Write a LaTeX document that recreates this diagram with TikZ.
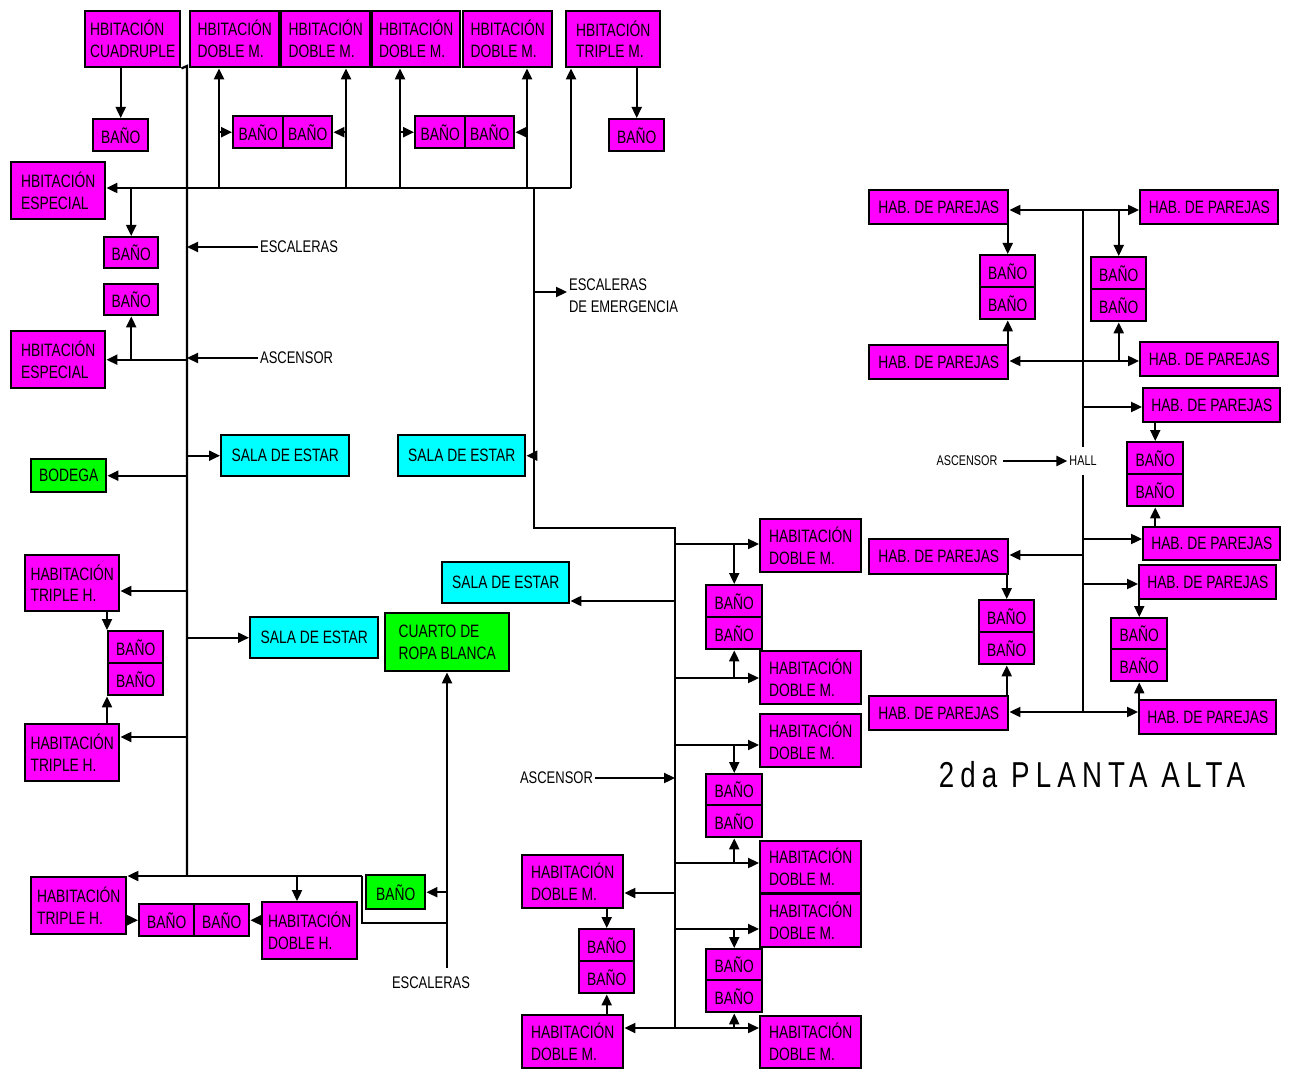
\documentclass[tikz,border=0pt]{standalone}
\usepackage{fontspec}
\setmainfont{Liberation Sans}[FakeStretch=0.77]
\usetikzlibrary{arrows.meta}
\definecolor{rosa}{RGB}{255,0,255}
\definecolor{celeste}{RGB}{0,255,255}
\definecolor{verde}{RGB}{0,255,0}
\newcommand\roomfont{\fontsize{10.2pt}{12.5pt}\selectfont}
\newcommand\tagfont{\fontsize{9.6pt}{12.5pt}\selectfont}
\newcommand\hallfont{\fontsize{8pt}{9pt}\selectfont}

\begin{document}
\begin{tikzpicture}[
        x=0.02cm, y=-0.02cm,
        every node/.style={font=\roomfont},
        box/.style={rectangle, draw, line width=1.4pt, anchor=north west, inner sep=2pt, align=left, fill=#1},
        sz/.style 2 args={minimum width=#1*0.02cm, minimum height=#2*0.02cm},
        arrow/.style={-{Triangle[length=0.22cm, width=0.2cm]}, line width=1.3pt},
        dblarrow/.style={{Triangle[length=0.22cm, width=0.2cm]}-{Triangle[length=0.22cm, width=0.2cm]}, line width=1.3pt},
        wire/.style={line width=1.3pt},
        tag/.style={font=\tagfont, inner sep=1pt}
    ]
    \useasboundingbox (0,0) rectangle (1300,1070);
%
    % top row
    \node[box=rosa, sz={95}{56}] (cuad) at (84,10) {HBITACIÓN\\CUADRUPLE};
    \node[box=rosa, sz={89}{56}] (dm1) at (189,10) {HBITACIÓN\\DOBLE M.};
    \node[box=rosa, sz={89}{56}] (dm2) at (280,10) {HBITACIÓN\\DOBLE M.};
    \node[box=rosa, sz={88}{56}] (dm3) at (371,10) {HBITACIÓN\\DOBLE M.};
    \node[box=rosa, sz={89}{56}] (dm4) at (462,10) {HBITACIÓN\\DOBLE M.};
    \node[box=rosa, sz={94}{56}] (tm) at (565,10) {HBITACIÓN\\TRIPLE M.};
    \node[box=rosa, sz={55}{32}, align=center] (b1) at (92,118) {BAÑO};
    \node[box=rosa, sz={50}{32}, align=center] (bp1a) at (232,115) {BAÑO};
    \node[box=rosa, sz={49}{32}, align=center] (bp1b) at (282,115) {BAÑO};
    \node[box=rosa, sz={50}{32}, align=center] (bp2a) at (414,115) {BAÑO};
    \node[box=rosa, sz={49}{32}, align=center] (bp2b) at (464,115) {BAÑO};
    \node[box=rosa, sz={55}{32}, align=center] (b2) at (608,118) {BAÑO};
%
    % left wing
    \node[box=rosa, sz={94}{57}] (esp1) at (10,161) {HBITACIÓN\\ESPECIAL};
    \node[box=rosa, sz={54}{31}, align=center] (b3) at (103,236) {BAÑO};
    \node[box=rosa, sz={54}{31}, align=center] (b4) at (103,283) {BAÑO};
    \node[box=rosa, sz={94}{57}] (esp2) at (10,330) {HBITACIÓN\\ESPECIAL};
    \node[box=celeste, sz={128}{41}, align=center] (sala1) at (220,434) {SALA DE ESTAR};
    \node[box=celeste, sz={127}{41}, align=center] (sala2) at (397,434) {SALA DE ESTAR};
    \node[box=verde, sz={75}{33}, align=center] (bod) at (30,458) {BODEGA};
    \node[box=celeste, sz={127}{41}, align=center] (sala3) at (441,561) {SALA DE ESTAR};
    \node[box=rosa, sz={94}{56}] (th1) at (24,554) {HABITACIÓN\\TRIPLE H.};
    \node[box=rosa, sz={55}{32}, align=center] (b5) at (107,630) {BAÑO};
    \node[box=rosa, sz={55}{32}, align=center] (b6) at (107,662) {BAÑO};
    \node[box=rosa, sz={94}{57}] (th2) at (24,723) {HABITACIÓN\\TRIPLE H.};
    \node[box=celeste, sz={128}{41}, align=center] (sala4) at (249,616) {SALA DE ESTAR};
    \node[box=verde, sz={124}{58}] (ropa) at (384,612) {CUARTO DE\\ROPA BLANCA};
%
    % bottom left
    \node[box=rosa, sz={95}{57}] (th3) at (30,876) {HABITACIÓN\\TRIPLE H.};
    \node[box=rosa, sz={55}{32}, align=center] (bp3a) at (138,903) {BAÑO};
    \node[box=rosa, sz={55}{32}, align=center] (bp3b) at (193,903) {BAÑO};
    \node[box=rosa, sz={95}{57}] (dh) at (261,901) {HABITACIÓN\\DOBLE H.};
    \node[box=verde, sz={59}{34}, align=center] (bv) at (365,874) {BAÑO};
%
    % middle column
    \node[box=rosa, sz={101}{53}] (hd1) at (759,518) {HABITACIÓN\\DOBLE M.};
    \node[box=rosa, sz={56}{32}, align=center] (ba1) at (705,584) {BAÑO};
    \node[box=rosa, sz={56}{32}, align=center] (ba2) at (705,616) {BAÑO};
    \node[box=rosa, sz={101}{53}] (hd2) at (759,650) {HABITACIÓN\\DOBLE M.};
    \node[box=rosa, sz={101}{53}] (hd3) at (759,713) {HABITACIÓN\\DOBLE M.};
    \node[box=rosa, sz={56}{31}, align=center] (ba3) at (705,773) {BAÑO};
    \node[box=rosa, sz={56}{32}, align=center] (ba4) at (705,804) {BAÑO};
    \node[box=rosa, sz={101}{52}] (hd4) at (759,840) {HABITACIÓN\\DOBLE M.};
    \node[box=rosa, sz={101}{53}] (hd5) at (759,893) {HABITACIÓN\\DOBLE M.};
    \node[box=rosa, sz={56}{31}, align=center] (ba5) at (705,948) {BAÑO};
    \node[box=rosa, sz={56}{32}, align=center] (ba6) at (705,979) {BAÑO};
    \node[box=rosa, sz={101}{52}] (hd6) at (759,1015) {HABITACIÓN\\DOBLE M.};
    \node[box=rosa, sz={101}{53}] (hl1) at (521,854) {HABITACIÓN\\DOBLE M.};
    \node[box=rosa, sz={55}{32}, align=center] (ba7) at (578,928) {BAÑO};
    \node[box=rosa, sz={55}{32}, align=center] (ba8) at (578,960) {BAÑO};
    \node[box=rosa, sz={101}{53}] (hl2) at (521,1014) {HABITACIÓN\\DOBLE M.};
%
    % right wing
    \node[box=rosa, sz={139}{34}, align=center] (hp1) at (868,189) {HAB. DE PAREJAS};
    \node[box=rosa, sz={138}{34}, align=center] (hp2) at (1139,189) {HAB. DE PAREJAS};
    \node[box=rosa, sz={55}{32}, align=center] (be1) at (979,254) {BAÑO};
    \node[box=rosa, sz={55}{32}, align=center] (be2) at (979,286) {BAÑO};
    \node[box=rosa, sz={55}{32}, align=center] (bf1) at (1090,256) {BAÑO};
    \node[box=rosa, sz={55}{32}, align=center] (bf2) at (1090,288) {BAÑO};
    \node[box=rosa, sz={139}{34}, align=center] (hp3) at (868,344) {HAB. DE PAREJAS};
    \node[box=rosa, sz={138}{34}, align=center] (hp4) at (1139,341) {HAB. DE PAREJAS};
    \node[box=rosa, sz={137}{34}, align=center] (hp5) at (1142,387) {HAB. DE PAREJAS};
    \node[box=rosa, sz={56}{32}, align=center] (bg1) at (1126,441) {BAÑO};
    \node[box=rosa, sz={56}{32}, align=center] (bg2) at (1126,473) {BAÑO};
    \node[box=rosa, sz={137}{33}, align=center] (hp6) at (1142,526) {HAB. DE PAREJAS};
    \node[box=rosa, sz={139}{35}, align=center] (hp7) at (868,538) {HAB. DE PAREJAS};
    \node[box=rosa, sz={55}{32}, align=center] (bh1) at (978,599) {BAÑO};
    \node[box=rosa, sz={55}{32}, align=center] (bh2) at (978,631) {BAÑO};
    \node[box=rosa, sz={137}{34}, align=center] (hp8) at (1138,564) {HAB. DE PAREJAS};
    \node[box=rosa, sz={56}{31}, align=center] (bi1) at (1110,617) {BAÑO};
    \node[box=rosa, sz={56}{32}, align=center] (bi2) at (1110,648) {BAÑO};
    \node[box=rosa, sz={139}{34}, align=center] (hp9) at (868,695) {HAB. DE PAREJAS};
    \node[box=rosa, sz={137}{34}, align=center] (hp10) at (1138,699) {HAB. DE PAREJAS};
%
    % labels
    \node[tag, anchor=west] (esc1) at (258,247) {ESCALERAS};
    \node[tag, anchor=west] (asc1) at (258,358) {ASCENSOR};
    \node[tag, anchor=west, align=left] (emg) at (567,296) {ESCALERAS\\DE EMERGENCIA};
    \node[tag, anchor=east] (asc2) at (595,778) {ASCENSOR};
    \node[tag] (esc3) at (431,983) {ESCALERAS};
    \node[tag, font=\hallfont, anchor=east, inner xsep=3pt] (asc3) at (1003,461) {ASCENSOR};
    \node[tag, font=\hallfont, fill=white, minimum height=0.55cm] (hall) at (1083,461) {HALL};
    \node (titulo) at (1092,775) {\fontsize{20.5pt}{21pt}\selectfont\addfontfeatures{LetterSpace=17}2da PLANTA ALTA};
%
    % left spine and top corridor
    \coordinate (ta) at (187,66);
    \coordinate (hr) at (571,188);
    \coordinate (j1) at (187,876);
    \draw[wire] (cuad.south east) -- (ta) -- (j1);
    \draw[arrow] (hr) -- (hr -| esp1.east);
    \draw[arrow] (hr) -- (hr |- tm.south);
    \coordinate (v1) at (219,188);
    \coordinate (v2) at (346,188);
    \coordinate (v3) at (400,188);
    \coordinate (v4) at (527,188);
    \draw[arrow] (v1) -- (v1 |- dm1.south);
    \draw[arrow] (v2) -- (v2 |- dm2.south);
    \draw[arrow] (v3) -- (v3 |- dm3.south);
    \draw[arrow] (v4) -- (v4 |- dm4.south);
    \draw[arrow] (v1 |- bp1a.west) -- (bp1a.west);
    \draw[arrow] (v2 |- bp1b.east) -- (bp1b.east);
    \draw[arrow] (v3 |- bp2a.west) -- (bp2a.west);
    \draw[arrow] (v4 |- bp2b.east) -- (bp2b.east);
    \draw[arrow] (b1.north |- cuad.south) -- (b1.north);
    \draw[arrow] (b2.north |- tm.south) -- (b2.north);
    \draw[arrow] (b3.north |- hr) -- (b3.north);
    \draw[arrow] (esc1.west) -- (esc1.west -| ta);
    \draw[arrow] (asc1.west) -- (asc1.west -| ta);
    \draw[arrow] (esp2.east -| ta) -- (esp2.east);
    \draw[arrow] (b4.south |- esp2.east) -- (b4.south);
    \draw[arrow] (sala1.west -| ta) -- (sala1.west);
    \draw[arrow] (bod.east -| ta) -- (bod.east);
    \coordinate (a1) at (187,591);
    \coordinate (a2) at (187,737);
    \draw[arrow] (a1) -- (a1 -| th1.east);
    \draw[arrow] (b5.north west |- th1.south) -- (b5.north west);
    \draw[arrow] (sala4.west -| ta) -- (sala4.west);
    \draw[arrow] (a2) -- (a2 -| th2.east);
    \draw[arrow] (b6.south west |- th2.north) -- (b6.south west);
%
    % bottom corridor
    \coordinate (j2) at (362,876);
    \coordinate (j3) at (362,923);
    \coordinate (j4) at (447,923);
    \coordinate (j5) at (297,876);
    \coordinate (e0) at (447,968);
    \draw[arrow] (j2) -- (th3.north east);
    \draw[wire] (j2) -- (j3) -- (j4);
    \draw[arrow] (j5) -- (j5 |- dh.north);
    \draw[arrow] (e0) -- (e0 |- ropa.south);
    \draw[arrow] (e0 |- bv.east) -- (bv.east);
    \draw[arrow] (th3.east |- bp3a.west) -- (bp3a.west);
    \draw[arrow] (dh.west |- bp3b.east) -- (bp3b.east);
%
    % middle spine
    \coordinate (s0) at (534,188);
    \coordinate (s1) at (534,528);
    \coordinate (s2) at (675,528);
    \coordinate (s3) at (675,1028);
    \coordinate (s4) at (534,292);
    \draw[wire] (s0) -- (s1) -- (s2) -- (s3);
    \draw[arrow] (s4) -- (s4 -| emg.west);
    \draw[arrow] (s0 |- sala2.east) -- (sala2.east);
    \coordinate (c1) at (675,544);
    \coordinate (c2) at (675,601);
    \coordinate (c3) at (675,678);
    \coordinate (c4) at (675,745);
    \coordinate (c5) at (675,778);
    \coordinate (c6) at (675,863);
    \coordinate (c7) at (675,893);
    \coordinate (c8) at (675,929);
    \draw[arrow] (c1) -- (c1 -| hd1.west);
    \draw[arrow] (c1 -| ba1.north) -- (ba1.north);
    \draw[arrow] (c2) -- (c2 -| sala3.east);
    \draw[arrow] (c3) -- (c3 -| hd2.west);
    \draw[arrow] (c3 -| ba2.south) -- (ba2.south);
    \draw[arrow] (c4) -- (c4 -| hd3.west);
    \draw[arrow] (c4 -| ba3.north) -- (ba3.north);
    \draw[arrow] (asc2.east) -- (c5);
    \draw[arrow] (c6) -- (c6 -| hd4.west);
    \draw[arrow] (c6 -| ba4.south) -- (ba4.south);
    \draw[arrow] (c7) -- (c7 -| hl1.east);
    \draw[arrow] (ba7.north |- hl1.south) -- (ba7.north);
    \draw[arrow] (c8) -- (c8 -| hd5.west);
    \draw[arrow] (c8 -| ba5.north) -- (ba5.north);
    \draw[dblarrow] (s3 -| hl2.east) -- (s3 -| hd6.west);
    \draw[arrow] (s3 -| ba6.south) -- (ba6.south);
    \draw[arrow] (ba8.south |- hl2.north) -- (ba8.south);
%
    % hall
    \coordinate (h1) at (1083,210);
    \coordinate (h2) at (1083,361);
    \coordinate (h3) at (1083,407);
    \coordinate (h4) at (1083,539);
    \coordinate (h5) at (1083,555);
    \coordinate (h6) at (1083,584);
    \coordinate (h7) at (1083,712);
    \draw[wire] (h1) -- (hall.north);
    \draw[wire] (hall.south) -- (h7);
    \draw[arrow] (asc3.east) -- (hall.west);
    \draw[dblarrow] (h1 -| hp1.east) -- (h1 -| hp2.west);
    \draw[arrow] (be1.north |- hp1.south) -- (be1.north);
    \draw[arrow] (bf1.north |- h1) -- (bf1.north);
    \draw[dblarrow] (h2 -| hp3.east) -- (h2 -| hp4.west);
    \draw[arrow] (be2.south |- hp3.north) -- (be2.south);
    \draw[arrow] (bf2.south |- h2) -- (bf2.south);
    \draw[arrow] (h3) -- (h3 -| hp5.west);
    \draw[arrow] (bg1.north |- hp5.south) -- (bg1.north);
    \draw[arrow] (h4) -- (h4 -| hp6.west);
    \draw[arrow] (bg2.south |- hp6.north) -- (bg2.south);
    \draw[arrow] (h5) -- (h5 -| hp7.east);
    \draw[arrow] (bh1.north |- hp7.south) -- (bh1.north);
    \draw[arrow] (h6) -- (h6 -| hp8.west);
    \draw[arrow] (bi1.north |- hp8.south) -- (bi1.north);
    \draw[dblarrow] (h7 -| hp9.east) -- (h7 -| hp10.west);
    \draw[arrow] (bh2.south |- hp9.north) -- (bh2.south);
    \draw[arrow] (bi2.south |- hp10.north) -- (bi2.south);
%
\end{tikzpicture}
\end{document}
